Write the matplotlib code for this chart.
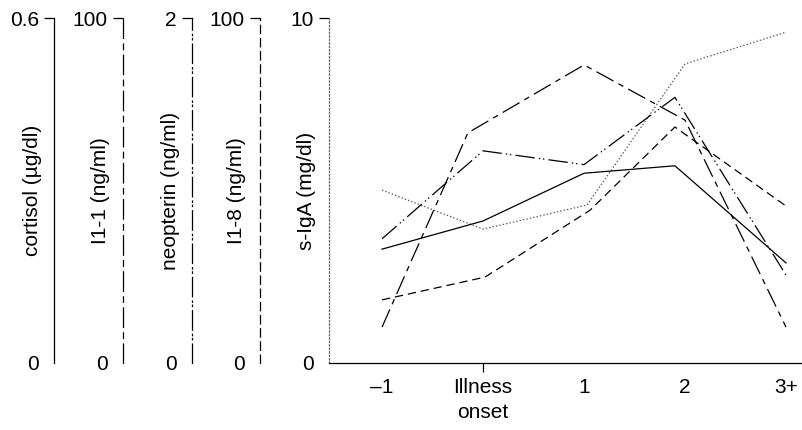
import matplotlib
matplotlib.use("Agg")
import matplotlib.pyplot as plt

plt.rcParams['font.family'] = ['Liberation Sans', 'DejaVu Sans']
plt.rcParams['font.size'] = 15
plt.rcParams['lines.scale_dashes'] = False

# %% Data
day_ticks = [-1, 0, 1, 2, 3]
day_labels = ['\u20131', 'Illness\nonset', '1', '2', '3+']

cortisol_x = [-1, 0, 1, 1.9, 3]
cortisol = [0.198, 0.247, 0.330, 0.343, 0.174]      # ug/dl

il1_x = [-1, -0.15, 1, 2, 3]
il1 = [10.4, 66.7, 86.4, 70.4, 10.4]                 # ng/ml

neopterin_x = [-1, 0, 1, 1.9, 3]
neopterin = [0.72, 1.23, 1.15, 1.54, 0.51]           # ng/ml

il8_x = [-1, 0.02, 1.06, 1.9, 3]
il8 = [18.3, 24.9, 44.3, 68.4, 45.5]                 # ng/ml

iga_x = [-1, 0, 1.03, 2, 3]
iga = [5.01, 3.88, 4.58, 8.67, 9.59]                 # mg/dl

# line styles (points)
SOLID = '-'
LONG_SHORT = (0, (14, 4, 4, 4))
DASH_DOT_DOT = (0, (14, 3, 1, 2, 1, 3))
DASHED = (0, (6, 3.5))
DOTTED = (0, (1, 1.5))

# %% Figure
fig = plt.figure(figsize=(8.03, 4.3), dpi=100)
ax = fig.add_axes([329 / 803, 67 / 430, 474 / 803, 345 / 430])

ax.set_xlim(-1.525, 3.168)
ax.set_ylim(0, 10)
for s in ['top', 'right']:
    ax.spines[s].set_visible(False)
ax.spines['bottom'].set_linewidth(0.9)
ax.spines['left'].set_linestyle(DOTTED)
ax.spines['left'].set_color('#666666')
ax.spines['left'].set_linewidth(0.9)

ax.set_xticks(day_ticks)
ax.set_xticklabels(day_labels, linespacing=1.4)
ax.tick_params(axis='x', length=6.5, width=0.9, pad=4.5)

ax.set_yticks([0, 10])
ax.set_yticklabels(['0', '10'])
ax.tick_params(axis='y', length=7, width=0.9, pad=4)

ax.plot(iga_x, iga, linestyle=DOTTED, color='#555555', lw=0.9)
ax.text(-0.0485, 0.5, 's-IgA (mg/dl)', rotation=90, ha='center', va='center',
        transform=ax.transAxes)

# extra left axes, one per series
extra = [
    (cortisol_x, cortisol, 0.6, '0.6', SOLID, -0.580, -0.6245, 'cortisol (\u00b5g/dl)'),
    (il1_x, il1, 100, '100', LONG_SHORT, -0.4346, -0.4831, 'I1-1 (ng/ml)'),
    (neopterin_x, neopterin, 2, '2', DASH_DOT_DOT, -0.289, -0.3354, 'neopterin (ng/ml)'),
    (il8_x, il8, 100, '100', DASHED, -0.1456, -0.1941, 'I1-8 (ng/ml)'),
]

for xs, ys, top, toplab, ls, spine_pos, lab_pos, label in extra:
    a = ax.twinx()
    a.set_ylim(0, top)
    for s in ['top', 'right', 'bottom']:
        a.spines[s].set_visible(False)
    a.spines['left'].set_visible(True)
    a.spines['left'].set_position(('axes', spine_pos))
    a.spines['left'].set_linestyle(ls)
    a.spines['left'].set_linewidth(0.9)
    a.yaxis.set_ticks_position('left')
    a.set_yticks([0, top])
    a.set_yticklabels(['0', toplab])
    a.tick_params(axis='y', length=7, width=0.9, pad=4)
    a.yaxis.get_major_ticks()[0].tick1line.set_visible(False)
    a.plot(xs, ys, linestyle=ls, color='black', lw=0.9)
    a.text(lab_pos, 0.5, label, rotation=90, ha='center', va='center',
           transform=a.transAxes)

# twinx resets the main ticks, so hide the unwanted tick marks last
ax.yaxis.get_major_ticks()[0].tick1line.set_visible(False)
for i, t in enumerate(ax.xaxis.get_major_ticks()):
    if i != 1:
        t.tick1line.set_visible(False)

fig.savefig('out.png', dpi=100)
